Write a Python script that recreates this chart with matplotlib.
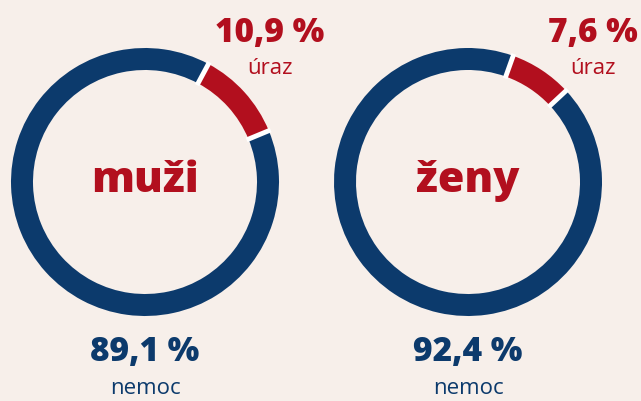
import numpy as np
import matplotlib.pyplot as plt

groups = ["muži", "ženy"]
uraz = [10.9, 7.6]
nemoc = [89.1, 92.4]
uraz_labels = ["10,9 %", "7,6 %"]
nemoc_labels = ["89,1 %", "92,4 %"]

navy = "#0c3a6c"
red = "#b20f1e"
bg = "#f7efea"

fig = plt.figure(figsize=(6.41, 4.02), dpi=100, facecolor=bg)
ax = fig.add_axes([0, 0, 1, 1])
ax.set_facecolor(bg)

H = 402
centers = [(145, H - 183), (468, H - 183)]
radius = 134
ring = 22
font = ["Open Sans", "DejaVu Sans"]

for i, (cx, cy) in enumerate(centers):
    start = 90 - uraz[i] * 3.6 * 0.72
    wedges, _ = ax.pie([uraz[i], nemoc[i]], colors=[red, navy], startangle=start,
                       counterclock=False, center=(cx, cy), radius=radius,
                       wedgeprops=dict(width=ring, linewidth=0))
    # white gaps between the segments
    for w in wedges:
        a = np.deg2rad(w.theta1)
        r0, r1 = radius - ring - 2, radius + 2
        ax.plot([cx + r0 * np.cos(a), cx + r1 * np.cos(a)],
                [cy + r0 * np.sin(a), cy + r1 * np.sin(a)],
                color="white", lw=3.5, solid_capstyle="butt")
    ax.text(cx, cy + 2, groups[i], ha="center", va="center", color=red,
            fontsize=31, fontweight=800, family=font)
    ax.text(cx + 125, H - 33, uraz_labels[i], ha="center", va="center",
            color=red, fontsize=24, fontweight=800, family=font)
    ax.text(cx + 125, H - 68, "úraz", ha="center", va="center",
            color=red, fontsize=16, family=font)
    ax.text(cx, H - 352, nemoc_labels[i], ha="center", va="center",
            color=navy, fontsize=24, fontweight=800, family=font)
    ax.text(cx, H - 389, "nemoc", ha="center", va="center",
            color=navy, fontsize=16, family=font)

ax.set_xlim(0, 641)
ax.set_ylim(0, H)
ax.set_aspect("auto")
ax.axis("off")

fig.savefig("out.png", dpi=100, facecolor=bg)
